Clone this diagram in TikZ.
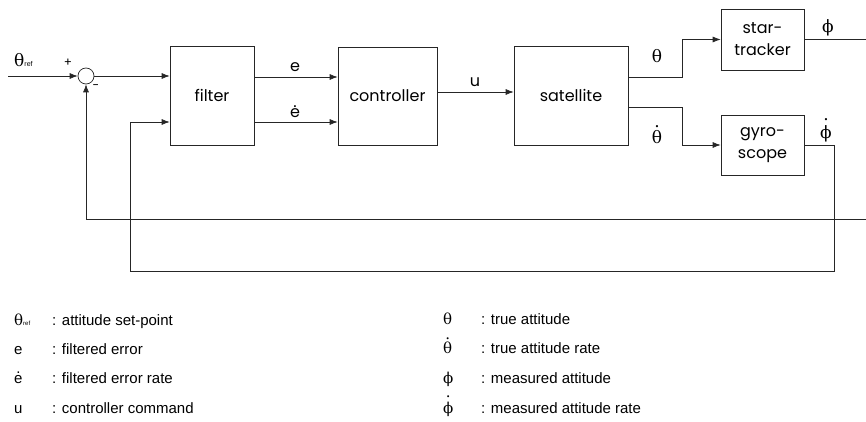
\documentclass[tikz,border=0pt]{standalone}
\usepackage{fontspec}
\setmainfont{Liberation Sans}
\newfontfamily\geo{Poppins}
\newfontfamily\gr{DejaVu Serif}
\usetikzlibrary{arrows.meta}
\newcommand\dotabove[2][0.12em]{\leavevmode\setbox0=\hbox{#2}\rlap{\hbox to \wd0{\hss\raisebox{\dimexpr\ht0+#1\relax}{.}\hss}}\box0}
\tikzset{
  ln/.style={line width=0.7pt, draw=black!85},
  blk/.style={ln, fill=white, align=center, inner sep=0pt,
    font=\geo\fontsize{16}{22}\selectfont},
  sig/.style={ln, -{Latex[length=8pt,width=6pt]}},
  plain/.style={ln},
  lbl/.style={inner sep=0pt, anchor=base, font=\geo\fontsize{16}{18}\selectfont},
  grl/.style={inner sep=0pt, anchor=base, font=\gr\fontsize{17}{20}\selectfont},
  sgn/.style={inner sep=0pt, font=\geo\fontsize{12}{14}\selectfont},
  leg/.style={inner sep=0pt, anchor=base west, font=\fontsize{15}{18}\selectfont},
  legsym/.style={inner sep=0pt, anchor=base west, font=\gr\fontsize{15}{18}\selectfont},
}
\begin{document}
\begin{tikzpicture}[x=1pt,y=-1pt]
\useasboundingbox (0,0) rectangle (866,422);
% blocks
\node[blk, minimum width=84pt, minimum height=99pt] (filter) at (212,95.5) {filter};
\node[blk, minimum width=99pt, minimum height=98pt] (ctrl) at (387.5,96) {controller};
\node[blk, minimum width=114pt, minimum height=99pt] (sat) at (571,95.5) {satellite};
\node[blk, minimum width=83pt, minimum height=61pt] (st) at (762.5,39.5) {star-\\tracker};
\node[blk, minimum width=83pt, minimum height=60pt] (gy) at (762.5,145) {gyro-\\scope};
\node[ln, circle, draw, minimum size=16pt, inner sep=0pt] (sum) at (86,76) {};
% free ends
\coordinate (in) at (8,76);
\coordinate (phiout) at (866,39.5);
\coordinate (fbright) at (866,219);
\coordinate (fbleft) at (86,219);
\coordinate (thsplit) at (682,77);
\coordinate (thdsplit) at (682,107);
\coordinate (gyfb) at (834,271);
\coordinate (fb2low) at (130,271);
\coordinate (fb2up) at (130,122);
% connectors
\draw[sig] (in) -- (sum.west);
\draw[sig] (sum.east) -- (sum.east -| filter.west);
\draw[sig] (fb2up) -- (fb2up -| filter.west);
\draw[sig] (filter.east |- 0,77) -- (ctrl.west |- 0,77);
\draw[sig] (filter.east |- 0,122) -- (ctrl.west |- 0,122);
\draw[sig] (ctrl.east |- 0,92) -- (sat.west |- 0,92);
\draw[sig] (sat.east |- thsplit) -- (thsplit) |- (st.west);
\draw[sig] (sat.east |- thdsplit) -- (thdsplit) |- (gy.west);
\draw[plain] (st.east) -- (phiout);
\draw[plain] (gy.east) -| (gyfb) -- (fb2low) -- (fb2up);
\draw[sig] (fbright) -- (fbleft) -- (sum.south);
% signal labels
\node[inner sep=0pt, anchor=base west] (thref) at (14,67) {{\gr\fontsize{17}{20}\selectfont θ}{\fontsize{7}{8}\selectfont ref}};
\node[sgn] (plus) at (68,63) {+};
\node[sgn] (minus) at (96,87) {-};
\node[lbl] (le) at (295,72) {e};
\node[lbl] (led) at (295,118) {\dotabove{e}};
\node[lbl] (lu) at (475,87) {u};
\node[grl] (lth) at (657,63) {θ};
\node[grl] (lthd) at (657,143) {\dotabove{θ}};
\node[grl] (lphi) at (828,33) {ϕ};
\node[grl] (lphid) at (826,139) {\dotabove[0.3em]{ϕ}};
% legend
\node[inner sep=0pt, anchor=base west] (s1) at (14,325) {{\gr\fontsize{15}{18}\selectfont θ}{\fontsize{6}{7}\selectfont ref}};
\node[leg] (t1) at (52,325) {: attitude set-point};
\node[leg] (s2) at (14,354) {e};
\node[leg] (t2) at (52,354) {: filtered error};
\node[leg] (s3) at (14,383.5) {\dotabove{e}};
\node[leg] (t3) at (52,383.5) {: filtered error rate};
\node[leg] (s4) at (14,413) {u};
\node[leg] (t4) at (52,413) {: controller command};
\node[legsym] (s5) at (443,324) {θ};
\node[leg] (t5) at (481,324) {: true attitude};
\node[legsym] (s6) at (443,353) {\dotabove{θ}};
\node[leg] (t6) at (481,353) {: true attitude rate};
\node[legsym] (s7) at (443,383) {ϕ};
\node[leg] (t7) at (481,383) {: measured attitude};
\node[legsym] (s8) at (443,413) {\dotabove[0.3em]{ϕ}};
\node[leg] (t8) at (481,413) {: measured attitude rate};
\end{tikzpicture}
\end{document}
